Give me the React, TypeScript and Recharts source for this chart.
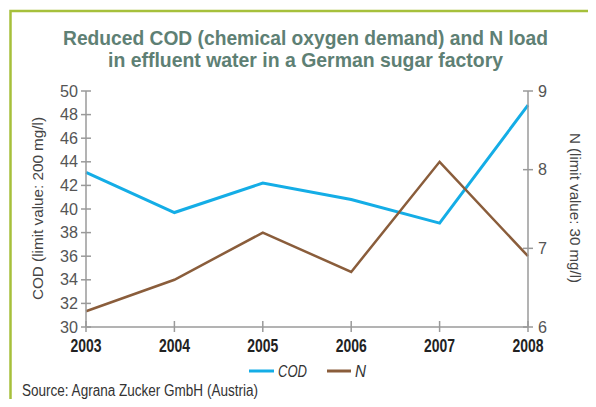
import { LineChart, Line, XAxis, YAxis } from "recharts";

const years = ["2003", "2004", "2005", "2006", "2007", "2008"];
const codValues = [43.1, 39.7, 42.2, 40.8, 38.8, 48.8];
const nValues = [6.2, 6.6, 7.2, 6.7, 8.1, 6.9];
const codTicks = [30, 32, 34, 36, 38, 40, 42, 44, 46, 48, 50];
const nTicks = [6, 7, 8, 9];

const data = years.map((year, i) => ({ year, cod: codValues[i], n: nValues[i] }));

const FONT = "'Liberation Sans', Arial, sans-serif";
const AXIS = "#9a9a9a";
const BLUE = "#14ade6";
const BROWN = "#8a5d3b";

const LeftTick = (p: any) => (
  <g>
    <line x1={p.x - 5} x2={p.x + 5} y1={p.y} y2={p.y} stroke={AXIS} strokeWidth={1.5} />
    <text x={p.x - 8} y={p.y} textAnchor="end" dominantBaseline="central" fontFamily={FONT} fontSize={17} fill="#555" textLength={18} lengthAdjust="spacingAndGlyphs">
      {p.payload.value}
    </text>
  </g>
);

const RightTick = (p: any) => (
  <g>
    <line x1={p.x - 5} x2={p.x + 5} y1={p.y} y2={p.y} stroke={AXIS} strokeWidth={1.5} />
    <text x={p.x + 10} y={p.y} textAnchor="start" dominantBaseline="central" fontFamily={FONT} fontSize={17} fill="#555" textLength={9} lengthAdjust="spacingAndGlyphs">
      {p.payload.value}
    </text>
  </g>
);

const BottomTick = (p: any) => (
  <g>
    <line x1={p.x} x2={p.x} y1={p.y - 6} y2={p.y + 5} stroke={AXIS} strokeWidth={1.5} />
    <text x={p.x} y={p.y + 25} textAnchor="middle" fontFamily={FONT} fontWeight="bold" fontSize={18} fill="#222" textLength={31} lengthAdjust="spacingAndGlyphs">
      {p.payload.value}
    </text>
  </g>
);

export default function App() {
  return (
    <div style={{ position: "relative", width: 596, height: 407, margin: -8, background: "#fff" }}>
      <LineChart width={596} height={407} data={data} margin={{ top: 91, right: 0, bottom: 50, left: 0 }}>
        <XAxis
          dataKey="year"
          height={30}
          tickSize={0}
          tickMargin={0}
          tick={BottomTick}
          axisLine={{ stroke: AXIS, strokeWidth: 1.5 }}
          interval={0}
        />
        <YAxis
          yAxisId="cod"
          orientation="left"
          width={86}
          domain={[30, 50]}
          ticks={codTicks}
          tickSize={0}
          tickMargin={0}
          tick={LeftTick}
          axisLine={{ stroke: AXIS, strokeWidth: 1.5 }}
          interval={0}
        />
        <YAxis
          yAxisId="n"
          orientation="right"
          width={68}
          domain={[6, 9]}
          ticks={nTicks}
          tickSize={0}
          tickMargin={0}
          tick={RightTick}
          axisLine={{ stroke: AXIS, strokeWidth: 1.5 }}
          interval={0}
        />
        <Line yAxisId="cod" dataKey="cod" stroke={BLUE} strokeWidth={3} dot={false} isAnimationActive={false} />
        <Line yAxisId="n" dataKey="n" stroke={BROWN} strokeWidth={2.5} dot={false} isAnimationActive={false} />
      </LineChart>
      <svg width={596} height={407} style={{ position: "absolute", left: 0, top: 0, pointerEvents: "none" }}>
        <path d="M10.5,407 L10.5,11 L596,11" fill="none" stroke="#a6c03b" strokeWidth={2.5} />
        <text x={63} y={45} fontFamily={FONT} fontWeight="bold" fontSize={21} fill="#5e8074" textLength={485} lengthAdjust="spacingAndGlyphs">
          Reduced COD (chemical oxygen demand) and N load
        </text>
        <text x={108} y={67} fontFamily={FONT} fontWeight="bold" fontSize={21} fill="#5e8074" textLength={395} lengthAdjust="spacingAndGlyphs">
          in effluent water in a German sugar factory
        </text>
        <text
          transform="translate(37,209) rotate(-90)"
          x={-91}
          dominantBaseline="central"
          fontFamily={FONT}
          fontSize={15}
          fill="#444"
          textLength={183}
          lengthAdjust="spacingAndGlyphs"
        >
          COD (limit value: 200 mg/l)
        </text>
        <text
          transform="translate(575,208) rotate(90)"
          x={-75}
          dominantBaseline="central"
          fontFamily={FONT}
          fontSize={15}
          fill="#444"
          textLength={150}
          lengthAdjust="spacingAndGlyphs"
        >
          N (limit value: 30 mg/l)
        </text>
        <line x1={249} x2={274} y1={371} y2={371} stroke={BLUE} strokeWidth={3} />
        <text x={278} y={376.5} fontFamily={FONT} fontStyle="italic" fontSize={16} fill="#333" textLength={29} lengthAdjust="spacingAndGlyphs">
          COD
        </text>
        <line x1={327} x2={351} y1={371} y2={371} stroke={BROWN} strokeWidth={3} />
        <text x={355} y={376.5} fontFamily={FONT} fontStyle="italic" fontSize={16} fill="#333" textLength={11} lengthAdjust="spacingAndGlyphs">
          N
        </text>
        <text x={22} y={396} fontFamily={FONT} fontSize={16} fill="#333" textLength={236} lengthAdjust="spacingAndGlyphs">
          Source: Agrana Zucker GmbH (Austria)
        </text>
      </svg>
    </div>
  );
}
